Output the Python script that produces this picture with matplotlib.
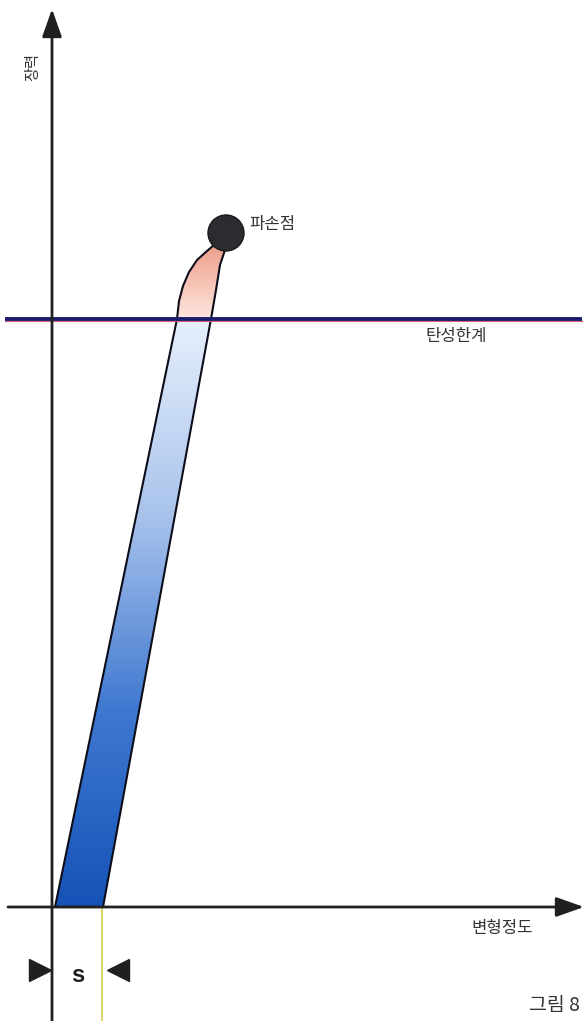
import numpy as np
import matplotlib

matplotlib.use("Agg")
import matplotlib.pyplot as plt  # noqa: E402
from matplotlib.colors import LinearSegmentedColormap  # noqa: E402
from matplotlib.patches import Circle, Polygon  # noqa: E402

plt.rcParams["font.family"] = ["Noto Sans CJK KR", "DejaVu Sans"]

# Diagram units: 1 unit = 1 px, origin where the axes cross.
X_RANGE = (-52, 535)
Y_RANGE = (-114, 907)

ELASTIC_LIMIT = 588  # 탄성한계
ELASTIC_SPAN = (-47, 530)

# Band (stress vs. deformation) below the elastic limit
LOWER_LEFT_X = [3, 125]
LOWER_RIGHT_X = [51, 159]
LOWER_Y = [0, 588]

# Curved part above the elastic limit, up to the failure point
UPPER_LEFT_X = [125, 127, 131, 137, 145, 155, 162]
UPPER_LEFT_Y = [588, 606, 621, 635, 647, 656, 662]
UPPER_RIGHT_X = [159, 164, 168, 174]
UPPER_RIGHT_Y = [588, 617, 642, 660]

FAILURE_POINT = (174, 674)
FAILURE_RADIUS = 18

S_OFFSET = 50  # permanent set "s"

BLUE_STOPS = ["#1553b8", "#3f78d0", "#a9c3ec", "#e6f0fc"]
PINK_STOPS = ["#fde6de", "#f6c2b4", "#ee9e8c"]


def gradient_fill(ax, xs, ys, y0, y1, stops):
    poly = Polygon(np.column_stack([xs, ys]), closed=True, facecolor="none",
                   edgecolor="#0d0d1a", linewidth=1.5, zorder=3)
    ax.add_patch(poly)
    cmap = LinearSegmentedColormap.from_list("g", stops)
    grad = np.linspace(0, 1, 256).reshape(-1, 1)
    im = ax.imshow(grad, extent=(min(xs), max(xs), y0, y1), origin="lower",
                   cmap=cmap, aspect="auto", zorder=2, interpolation="bilinear")
    im.set_clip_path(poly)


fig = plt.figure(figsize=(5.87, 10.21), dpi=100)
ax = fig.add_axes([0, 0, 1, 1])
ax.set_xlim(*X_RANGE)
ax.set_ylim(*Y_RANGE)
ax.axis("off")

# lower band (elastic region)
lx = LOWER_LEFT_X + LOWER_RIGHT_X[::-1]
ly = LOWER_Y + LOWER_Y[::-1]
gradient_fill(ax, lx, ly, LOWER_Y[0], LOWER_Y[1], BLUE_STOPS)

# upper band (plastic region)
ux = UPPER_LEFT_X + UPPER_RIGHT_X[::-1]
uy = UPPER_LEFT_Y + UPPER_RIGHT_Y[::-1]
gradient_fill(ax, ux, uy, ELASTIC_LIMIT, max(uy), PINK_STOPS)

ax.add_patch(Circle(FAILURE_POINT, FAILURE_RADIUS, facecolor="#2b2b30",
                    edgecolor="#1a1a1a", linewidth=1, zorder=5))

# elastic limit line
ax.plot(ELASTIC_SPAN, [ELASTIC_LIMIT - 2.5] * 2, color="#d06070", lw=0.8, zorder=4)
ax.plot(ELASTIC_SPAN, [ELASTIC_LIMIT] * 2, color="#1c1c6e", lw=2.8, zorder=4,
        solid_capstyle="butt")

# axes with arrowheads
arrow = dict(arrowstyle="-|>,head_length=0.85,head_width=0.3", color="#202020",
             lw=2.0, mutation_scale=20, shrinkA=0, shrinkB=0)
ax.annotate("", xy=(0, Y_RANGE[1] - 9), xytext=(0, Y_RANGE[0]), arrowprops=arrow, zorder=6)
ax.annotate("", xy=(X_RANGE[1] - 3, 0), xytext=(X_RANGE[0] + 8, 0), arrowprops=arrow, zorder=6)

# permanent set marker
ax.plot([S_OFFSET, S_OFFSET], [0, Y_RANGE[0]], color="#d8cc50", lw=1.2, zorder=1)
ax.plot([-12.5], [-63], marker=">", markersize=16, color="#202020", zorder=6)
ax.plot([S_OFFSET + 15.5], [-63], marker="<", markersize=16, color="#202020", zorder=6)
ax.text(26, -68, "s", fontsize=17, fontweight="bold", ha="center", va="center",
        family=["Liberation Sans", "DejaVu Sans"], color="#202020")

# labels
ax.text(-19, 840, "장력", rotation=90, fontsize=11, ha="center", va="center", color="#333333")
ax.text(197, 682, "파손점", fontsize=12, ha="left", va="center", color="#333333")
ax.text(404, 570, "탄성한계", fontsize=12, ha="center", va="center", color="#333333")
ax.text(450, -21, "변형정도", fontsize=12, ha="center", va="center", color="#333333")
ax.text(528, -98, "그림 8", fontsize=14, ha="right", va="center", color="#333333")

fig.savefig("out.png", dpi=100)
